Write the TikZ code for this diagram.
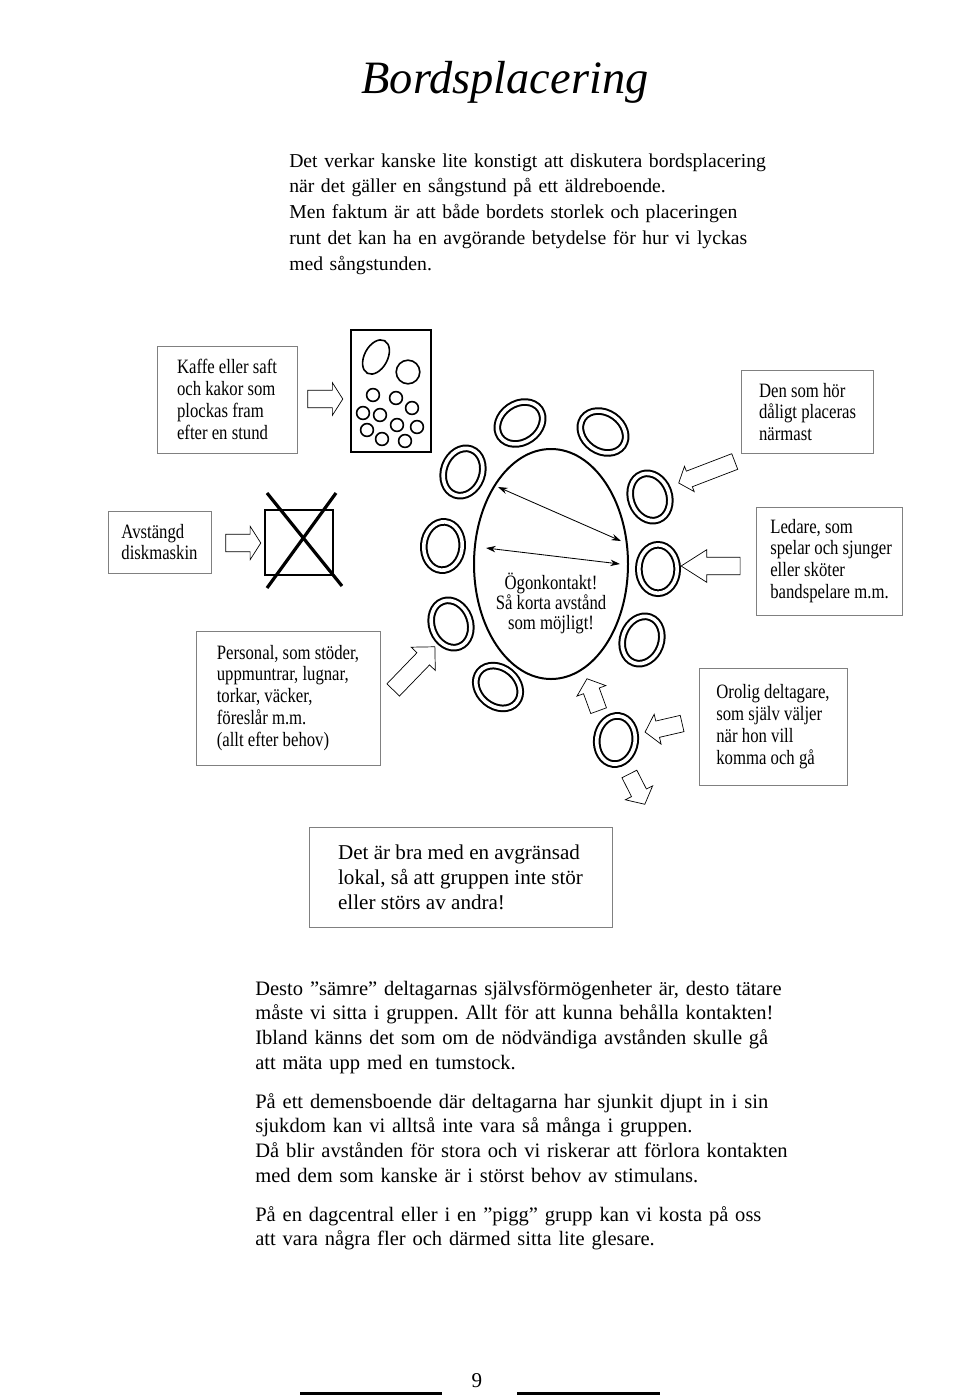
\documentclass[tikz,border=0pt]{standalone}
\usepackage{fontspec}
\setmainfont{Liberation Serif}
\newfontfamily\narrowserif[FakeStretch=0.82]{Liberation Serif}
\usepackage{tikz}
\usetikzlibrary{arrows.meta,positioning,shapes.geometric,shapes.arrows}
\frenchspacing

\begin{document}
\begin{tikzpicture}[
    x=0.25mm, y=-0.25mm,
    >={Stealth[length=2.4mm,width=1.6mm]},
    bodytext/.style={anchor=base west, inner sep=0pt, align=left, text width=150mm, font=\fontsize{14}{18.4}\selectfont},
    lowtext/.style={bodytext, font=\fontsize{14.6}{17.7}\selectfont},
    infobox/.style={draw=black!50, line width=0.7pt, align=left, inner sep=0pt, font=\narrowserif\fontsize{14.5}{15.6}\selectfont},
    chair/.style={ellipse, draw, line width=0.5mm, double, double distance=0.9mm, minimum width=9.6mm, minimum height=12.1mm, inner sep=0pt},
    hollow/.style={single arrow, draw, line width=0.5pt, inner xsep=0pt, inner ysep=2.1mm, fill=white},
    dish/.style={circle, draw, line width=0.4mm, inner sep=0pt, minimum size=3.2mm}
]
\useasboundingbox (0,0) rectangle (960,1396);

\node[font=\fontsize{33}{33}\selectfont\itshape] (title) at (505,82) {Bordsplacering};

\node[bodytext] (intro) at (289,167) {Det verkar kanske lite konstigt att diskutera bordsplacering\\
när det gäller en sångstund på ett äldreboende.\\
Men faktum är att både bordets storlek och placeringen\\
runt det kan ha en avgörande betydelse för hur vi lyckas\\
med sångstunden.};

% fika
\node[infobox, minimum width=35mm, minimum height=26.75mm] (kaffe) at (227,399.5) {Kaffe eller saft\\och kakor som\\plockas fram\\efter en stund};
\node[hollow, minimum height=8.75mm, inner ysep=2.1mm, single arrow head extend=1.9mm, single arrow tip angle=115] (arrKaffe) at (322.5,399) {};
\node[draw, line width=0.6mm, minimum width=20mm, minimum height=30.5mm, inner sep=0pt] (tray) at (391,391) {};
\node[ellipse, draw, line width=0.4mm, minimum width=5.8mm, minimum height=9.2mm, inner sep=0pt, rotate=-28] (cup) at (376,357) {};
\node[dish, minimum size=5.9mm] (plate) at (408,372) {};
\foreach \cx/\cy [count=\i] in {373/395, 396/398, 412/408, 363/413, 380/415, 397/425, 417/427, 367/430, 382/439, 405/441}
    \node[dish] (kaka\i) at (\cx,\cy) {};

\node[infobox, minimum width=33mm, minimum height=20.75mm] (hor) at (807.5,412) {Den som hör\\dåligt placeras\\närmast};
\node[hollow, minimum height=15mm, inner ysep=2mm, single arrow head extend=1.3mm, single arrow tip angle=100, rotate=201] (arrHor) at (710,471) {};

% disk
\node[infobox, minimum width=25.75mm, minimum height=15.5mm] (avst) at (159.5,542) {Avstängd\\diskmaskin};
\node[hollow, minimum height=8.75mm, inner ysep=2.1mm, single arrow head extend=2mm, single arrow tip angle=115] (arrAvst) at (240.5,543) {};
\node[draw, line width=0.35mm, minimum width=17mm, minimum height=16.25mm, inner sep=0pt] (dishw) at (299,542.5) {};
\draw[line width=0.8mm] (267,493) -- (342,586);
\draw[line width=0.8mm] (336,493) -- (267,588);

\node[infobox, minimum width=46mm, minimum height=33.5mm] (pers) at (288,698) {Personal, som stöder,\\uppmuntrar, lugnar,\\torkar, väcker,\\föreslår m.m.\\(allt efter behov)};
\node[hollow, minimum height=15mm, inner ysep=2.1mm, single arrow head extend=2mm, single arrow tip angle=90, rotate=46] (arrPers) at (411,671.5) {};

% bordet
\node[ellipse, draw, line width=0.5mm, minimum width=38.5mm, minimum height=57.5mm, inner sep=0pt] (table) at (551,564) {};
\node[font=\narrowserif\fontsize{14.5}{14.2}\selectfont, align=center] (eyetxt) at (551,603) {Ögonkontakt!\\Så korta avstånd\\som möjligt!};
\coordinate (eyeA) at (498,487);
\coordinate (eyeB) at (621,541);
\coordinate (eyeC) at (486,548);
\coordinate (eyeD) at (620,564);
\draw[<->, line width=0.6pt] (eyeA) -- (eyeB);
\draw[<->, line width=0.6pt] (eyeC) -- (eyeD);

\node[chair, rotate=-55] (chA) at (520,423) {};
\node[chair, rotate=55] (chB) at (603,432) {};
\node[chair, rotate=-20] (chC) at (463,472) {};
\node[chair, rotate=-5] (chD) at (443,546) {};
\node[chair, rotate=20] (chE) at (451,624) {};
\node[chair, rotate=50] (chF) at (498,687) {};
\node[chair, rotate=20] (chG) at (650,497) {};
\node[chair] (chH) at (658,569) {};
\node[chair, rotate=-20] (chI) at (642,640) {};
\node[chair, rotate=-8] (chJ) at (616,740) {};

\node[infobox, minimum width=36.5mm, minimum height=27mm] (ledare) at (829.5,561) {Ledare, som\\\makebox[27.5mm][l]{spelar och sjunger}\\eller sköter\\bandspelare m.m.};
\node[hollow, minimum height=14.75mm, inner ysep=2.1mm, single arrow head extend=1.9mm, single arrow tip angle=65, rotate=180] (arrLedare) at (717.5,566) {};

\node[infobox, minimum width=37mm, minimum height=29.25mm] (orolig) at (773,726.5) {Orolig deltagare,\\som själv väljer\\när hon vill\\komma och gå};
\node[hollow, minimum height=9.5mm, inner ysep=2mm, single arrow head extend=1.75mm, single arrow tip angle=100, rotate=193] (arrOrolig) at (667,727) {};
\node[hollow, minimum height=8.5mm, inner ysep=2mm, single arrow head extend=1.75mm, single arrow tip angle=100, rotate=110] (arrUp) at (594,698) {};
\node[hollow, minimum height=8.5mm, inner ysep=2mm, single arrow head extend=1.75mm, single arrow tip angle=100, rotate=-63] (arrDown) at (635.5,786) {};

\node[infobox, minimum width=75.75mm, minimum height=25mm, font=\fontsize{15}{17.7}\selectfont] (lokal) at (460.5,877) {Det är bra med en avgränsad\\lokal, så att gruppen inte stör\\eller störs av andra!};

\node[lowtext] (desto) at (255,995) {Desto ”sämre” deltagarnas självsförmögenheter är, desto tätare\\
måste vi sitta i gruppen. Allt för att kunna behålla kontakten!\\
Ibland känns det som om de nödvändiga avstånden skulle gå\\
att mäta upp med en tumstock.};
\node[lowtext] (demens) at (255,1108) {På ett demensboende där deltagarna har sjunkit djupt in i sin\\
sjukdom kan vi alltså inte vara så många i gruppen.\\
Då blir avstånden för stora och vi riskerar att förlora kontakten\\
med dem som kanske är i störst behov av stimulans.};
\node[lowtext] (pigg) at (255,1221) {På en dagcentral eller i en ”pigg” grupp kan vi kosta på oss\\
att vara några fler och därmed sitta lite glesare.};

\node[font=\fontsize{15}{15}\selectfont] (pagenum) at (477,1381) {9};
\draw[line width=0.75mm] (300,1393) -- (442,1393);
\draw[line width=0.75mm] (517,1393) -- (660,1393);
\end{tikzpicture}
\end{document}
